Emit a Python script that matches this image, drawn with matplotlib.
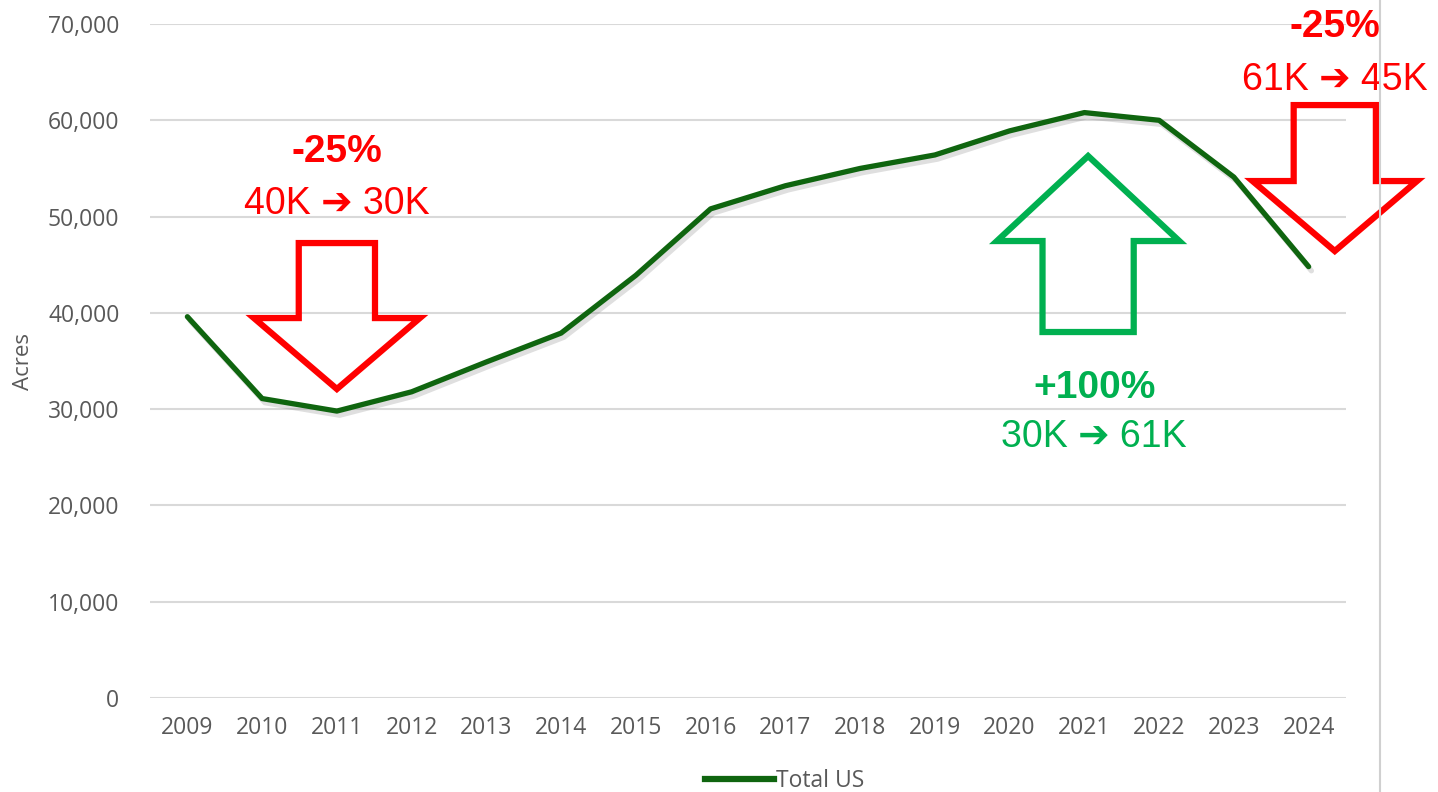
import matplotlib
matplotlib.use("Agg")
import matplotlib.pyplot as plt
import matplotlib.patheffects as pe
from matplotlib.patches import Polygon
from matplotlib.lines import Line2D

years = ["2009", "2010", "2011", "2012", "2013", "2014", "2015", "2016",
         "2017", "2018", "2019", "2020", "2021", "2022", "2023", "2024"]
acres = [39600, 31100, 29800, 31800, 34900, 37900, 43900, 50800,
         53200, 55000, 56400, 58900, 60800, 60000, 54100, 44800]
yticks = [0, 10000, 20000, 30000, 40000, 50000, 60000, 70000]
series_name = "Total US"

LINE_C = "#0f650f"
RED = "#ff0000"
GREEN = "#00b050"
GREY_TXT = "#595959"
GRID_C = "#d9d9d9"

fig = plt.figure(figsize=(14.38, 7.92), dpi=100)
ax = fig.add_axes([150/1438, 1-698/792, 1196/1438, 674/792])

x = list(range(len(years)))
ax.plot(x, acres, color=LINE_C, lw=3.8, solid_capstyle="round", solid_joinstyle="round",
        path_effects=[pe.SimpleLineShadow(offset=(2, -3), shadow_color="gray", alpha=0.25),
                      pe.Normal()], zorder=3)

ax.set_xlim(-0.5, len(years) - 0.5)
ax.set_ylim(0, 70000)
ax.set_yticks(yticks)
ax.set_yticklabels([f"{v:,}" for v in yticks])
ax.set_xticks(x)
ax.set_xticklabels(years)
ax.grid(axis="y", color=GRID_C, lw=1.5)
ax.set_axisbelow(True)
for s in ax.spines.values():
    s.set_visible(False)
ax.tick_params(length=0, labelsize=16.5, labelcolor=GREY_TXT)
ax.tick_params(axis="y", pad=22)
ax.tick_params(axis="x", pad=13)
for lab in ax.get_xticklabels() + ax.get_yticklabels():
    lab.set_family("Open Sans")
ax.set_ylabel("Acres", fontsize=16, color=GREY_TXT, family="Open Sans", labelpad=10)


def block_arrow(cx, shaft_hw, head_hw, base, head_base, tip, color):
    pts = [(cx - shaft_hw, base), (cx + shaft_hw, base), (cx + shaft_hw, head_base),
           (cx + head_hw, head_base), (cx, tip), (cx - head_hw, head_base),
           (cx - shaft_hw, head_base)]
    ax.add_patch(Polygon(pts, closed=True, fill=False, edgecolor=color, lw=4.5,
                         joinstyle="miter", clip_on=False, zorder=4))


# left red arrow (down)
block_arrow(2.0, 0.51, 1.11, 47250, 39460, 32090, RED)
# right red arrow (down)
block_arrow(15.35, 0.55, 1.10, 61580, 53690, 46420, RED)
# green arrow (up)
block_arrow(12.05, 0.61, 1.22, 38010, 47460, 56290, GREEN)

fam = ["Liberation Sans", "DejaVu Sans"]
ax.text(2.0, 55660, "-25%", color=RED, fontsize=28, fontweight="bold", ha="center",
        va="baseline", family=fam, clip_on=False)
ax.text(2.0, 50260, "40K \u2794 30K", color=RED, fontsize=27, ha="center",
        va="baseline", family=fam, clip_on=False)
ax.text(15.35, 68650, "-25%", color=RED, fontsize=28, fontweight="bold", ha="center",
        va="baseline", family=fam, clip_on=False)
ax.text(15.35, 63140, "61K \u2794 45K", color=RED, fontsize=27, ha="center",
        va="baseline", family=fam, clip_on=False)
ax.text(12.13, 31160, "+100%", color=GREEN, fontsize=28, fontweight="bold", ha="center",
        va="baseline", family=fam, clip_on=False)
ax.text(12.13, 26070, "30K \u2794 61K", color=GREEN, fontsize=27, ha="center",
        va="baseline", family=fam, clip_on=False)

# thin vertical border line at right
fig.add_artist(Line2D([1380/1438, 1380/1438], [0, 1], transform=fig.transFigure,
                      color="#d0d0d0", lw=1.5))

handle = Line2D([], [], color=LINE_C, lw=4.5)
leg = fig.legend([handle], [series_name], loc="center", bbox_to_anchor=(785/1438, 1-781/792),
                 frameon=False, handlelength=3.0, handletextpad=0.1,
                 prop={"family": "Open Sans", "size": 16.5})
for t in leg.get_texts():
    t.set_color(GREY_TXT)

fig.savefig("out.png", dpi=100)
